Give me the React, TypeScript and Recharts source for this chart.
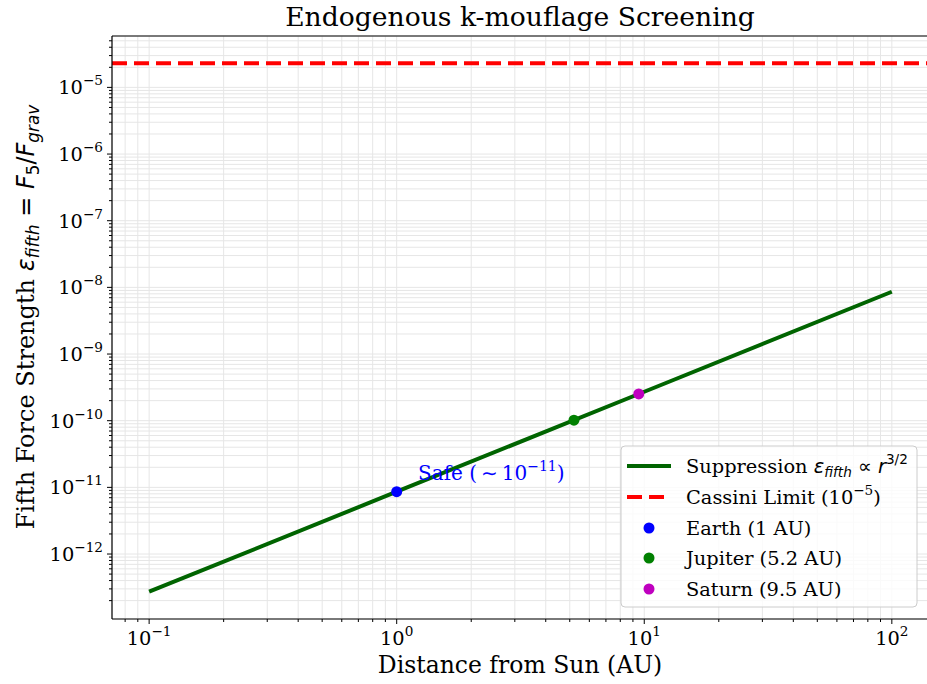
import { CartesianGrid, ComposedChart, Line, ReferenceLine, Scatter, XAxis, YAxis } from 'recharts'

// suppression curve
const distanceAU = [0.1, 1, 10, 100]
const epsFifth = [2.72e-13, 8.6e-12, 2.72e-10, 8.6e-9]

const planetNames = ['Earth (1 AU)', 'Jupiter (5.2 AU)', 'Saturn (9.5 AU)']
const planetAU = [1, 5.2, 9.5]
const planetEps = [8.6e-12, 1.02e-10, 2.52e-10]
const planetColors = ['#0000ff', '#008000', '#bf00bf']

const cassiniLimit = 2.3e-5

const xDecades = [-2, -1, 0, 1, 2]
const yDecades = [-13, -12, -11, -10, -9, -8, -7, -6, -5]
const X_DOMAIN: [number, number] = [0.0708, 141.3]
const Y_DOMAIN: [number, number] = [1.06e-13, 5.9e-5]

const SERIF = '"DejaVu Serif", serif'
const SANS = '"DejaVu Sans", sans-serif'
const LINE_GREEN = '#006400'

const curveData = distanceAU.map((r, i) => ({ r, eps: epsFifth[i] }))
const planets = planetAU.map((r, i) => ({ r, eps: planetEps[i], name: planetNames[i], color: planetColors[i] }))

function logTicks(decades: number[], [lo, hi]: [number, number]) {
  const out: number[] = []
  for (const d of decades) {
    for (let m = 1; m < 10; m++) {
      const v = m * Math.pow(10, d)
      if (v >= lo && v <= hi) out.push(v)
    }
  }
  return out
}

const xTicks = logTicks(xDecades, X_DOMAIN)
const yTicks = logTicks(yDecades, Y_DOMAIN)

function expOf(v: number) {
  const e = Math.log10(v)
  const major = Math.abs(e - Math.round(e)) < 1e-6
  return { major, exp: String(Math.round(e)).replace('-', '\u2212') }
}

function XTick(props: any) {
  const { x, y, payload } = props
  const { major, exp } = expOf(payload.value)
  return (
    <g>
      <line x1={x} x2={x} y1={y} y2={y + (major ? 5 : 3)} stroke="#000" strokeWidth={1} />
      {major && (
        <text x={x} y={y + 26} textAnchor="middle" fontFamily={SERIF} fontSize={19.4} fill="#000">
          10<tspan dy={-9} fontSize={13.6}>{exp}</tspan>
        </text>
      )}
    </g>
  )
}

function YTick(props: any) {
  const { x, y, payload } = props
  const { major, exp } = expOf(payload.value)
  return (
    <g>
      <line x1={x - (major ? 5 : 3)} x2={x} y1={y} y2={y} stroke="#000" strokeWidth={1} />
      {major && (
        <text x={x - 9} y={y + 7} textAnchor="end" fontFamily={SERIF} fontSize={19.4} fill="#000">
          10<tspan dy={-9} fontSize={13.6}>{exp}</tspan>
        </text>
      )}
    </g>
  )
}

function PlanetDot(props: any) {
  const { cx, cy, payload } = props
  return <circle cx={cx} cy={cy} r={5.5} fill={payload.color} />
}

function Overlay() {
  const rows = [466, 497, 528, 558, 589]
  return (
    <svg width={927} height={684} style={{ position: 'absolute', left: 0, top: 0, pointerEvents: 'none' }}>
      <text x={520} y={26} textAnchor="middle" fontFamily={SERIF} fontSize={26.6}>
        Endogenous k-mouflage Screening
      </text>
      <text x={520} y={673} textAnchor="middle" fontFamily={SERIF} fontSize={23.5}>
        Distance from Sun (AU)
      </text>
      <text transform="translate(34, 317) rotate(-90)" textAnchor="middle" fontFamily={SERIF} fontSize={24}>
        Fifth Force Strength{' '}
        <tspan fontFamily={SANS} fontStyle="italic">ε</tspan>
        <tspan fontFamily={SANS} fontStyle="italic" fontSize={16.8} dy={5}>fifth</tspan>
        <tspan fontFamily={SANS} dy={-5}> = </tspan>
        <tspan fontFamily={SANS} fontStyle="italic">F</tspan>
        <tspan fontFamily={SANS} fontSize={16.8} dy={5}>5</tspan>
        <tspan fontFamily={SANS} dy={-5}>/</tspan>
        <tspan fontFamily={SANS} fontStyle="italic">F</tspan>
        <tspan fontFamily={SANS} fontStyle="italic" fontSize={16.8} dy={5}>grav</tspan>
      </text>

      <text x={418} y={480} fontFamily={SERIF} fontSize={20} fill="#0000ff">
        Safe (<tspan fontFamily={SANS}>{'\u2009∼\u2009'}</tspan>10
        <tspan dy={-9} fontSize={14}>−11</tspan>
        <tspan dy={9}>)</tspan>
      </text>

      <rect x={621} y={446} width={296} height={161} rx={4} fill="#fff" fillOpacity={0.8} stroke="#cccccc" />
      <line x1={627} x2={671} y1={rows[0]} y2={rows[0]} stroke={LINE_GREEN} strokeWidth={4} />
      <text x={686} y={rows[0] + 7} fontFamily={SERIF} fontSize={19.4}>
        Suppression{' '}
        <tspan fontFamily={SANS} fontStyle="italic">ε</tspan>
        <tspan fontFamily={SANS} fontStyle="italic" fontSize={13.6} dy={4}>fifth</tspan>
        <tspan fontFamily={SANS} dy={-4}> ∝ </tspan>
        <tspan fontFamily={SANS} fontStyle="italic">r</tspan>
        <tspan fontFamily={SANS} fontSize={13.6} dy={-9}>3/2</tspan>
      </text>
      <line x1={627} x2={671} y1={rows[1]} y2={rows[1]} stroke="#ff0000" strokeWidth={4} strokeDasharray="15 7" />
      <text x={686} y={rows[1] + 7} fontFamily={SERIF} fontSize={19.4}>
        Cassini Limit (10<tspan dy={-9} fontSize={13.6}>−5</tspan>
        <tspan dy={9}>)</tspan>
      </text>
      {planets.map((p, i) => (
        <g key={p.name}>
          <circle cx={649} cy={rows[i + 2]} r={5.5} fill={p.color} />
          <text x={686} y={rows[i + 2] + 7} fontFamily={SERIF} fontSize={19.4}>
            {p.name}
          </text>
        </g>
      ))}
    </svg>
  )
}

export default function App() {
  return (
    <div style={{ position: 'relative', width: 927, height: 684, overflow: 'hidden', background: '#fff' }}>
      <style>{'body{margin:0}'}</style>
      <ComposedChart width={932} height={684} margin={{ top: 36, right: 3, bottom: 0, left: 0 }}>
        <CartesianGrid stroke="#e6e6e6" strokeWidth={1} />
        <XAxis
          dataKey="r"
          type="number"
          scale="log"
          domain={X_DOMAIN}
          allowDataOverflow
          ticks={xTicks}
          interval={0}
          tickSize={0}
          tickMargin={0}
          tick={(p: any) => <XTick {...p} />}
          axisLine={{ stroke: '#000', strokeWidth: 1.2 }}
          height={65}
        />
        <YAxis
          type="number"
          scale="log"
          domain={Y_DOMAIN}
          allowDataOverflow
          ticks={yTicks}
          interval={0}
          tickSize={0}
          tickMargin={0}
          tick={(p: any) => <YTick {...p} />}
          axisLine={{ stroke: '#000', strokeWidth: 1.2 }}
          width={112}
        />
        <ReferenceLine y={Y_DOMAIN[1]} stroke="#000" strokeWidth={1.2} />
        <Line
          data={curveData}
          dataKey="eps"
          type="linear"
          stroke={LINE_GREEN}
          strokeWidth={4}
          dot={false}
          isAnimationActive={false}
        />
        <ReferenceLine y={cassiniLimit} stroke="#ff0000" strokeWidth={4} strokeDasharray="15 7" />
        <Scatter data={planets} dataKey="eps" shape={(p: any) => <PlanetDot {...p} />} isAnimationActive={false} />
      </ComposedChart>
      <Overlay />
    </div>
  )
}
